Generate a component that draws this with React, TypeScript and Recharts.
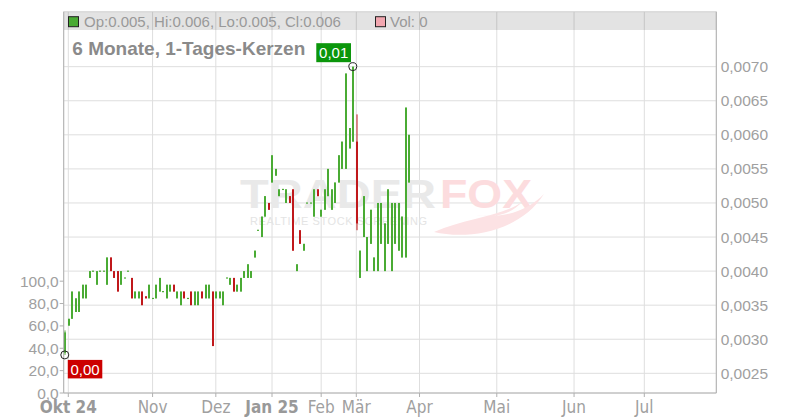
import React from 'react';
import { ComposedChart, Bar, XAxis, YAxis, CartesianGrid, ReferenceDot, Customized } from 'recharts';

// One candle per trading slot (slot index = array index)
const openP = [
  0.0028, 0.0032, 0.0033, 0.0034, 0.0034, 0.0036, 0.0036, 0.0039, 0.004, 0.0038,
  0.004, 0.004, 0.0038, 0.0042, 0.004, 0.004, 0.0038, 0.0039, 0.004, 0.0039,
  0.0036, 0.0036, 0.0037, 0.00363, 0.0036, 0.0036, 0.0036, 0.0037, 0.0037, 0.0036,
  0.0037, 0.0038, 0.0036, 0.0035, 0.0037, 0.0036, 0.0037, 0.0035, 0.0035, 0.0037,
  0.0036, 0.0036, 0.0037, 0.0036, 0.0036, 0.0035, 0.0039, 0.0038, 0.0039, 0.0037,
  0.0037, 0.0039, 0.0039, 0.0039, 0.0042, 0.0046, 0.0045, 0.0048, 0.005, 0.0053,
  0.0054, 0.0051, 0.0052, 0.005, 0.0051, 0.0052, 0.004, 0.0046, 0.0043, 0.005,
  0.005, 0.0048, 0.0052, 0.0048, 0.0049, 0.0051, 0.0049, 0.005, 0.0053, 0.0055,
  0.0055, 0.0058, 0.0059, 0.0059, 0.0039, 0.0045, 0.004, 0.0044, 0.004, 0.004,
  0.0044, 0.004, 0.0044, 0.004, 0.0044, 0.0043, 0.0042, 0.0042, 0.0053,
];
const highP = [
  0.00313, 0.0033, 0.0037, 0.0036, 0.0037, 0.0038, 0.0038, 0.004, 0.004, 0.004,
  0.004, 0.004, 0.0042, 0.0042, 0.004, 0.004, 0.004, 0.0039, 0.004, 0.0039,
  0.0037, 0.0037, 0.0037, 0.00363, 0.0038, 0.0036, 0.0038, 0.0039, 0.0037, 0.0038,
  0.0038, 0.0038, 0.0037, 0.0037, 0.0037, 0.0036, 0.0037, 0.0037, 0.0037, 0.0037,
  0.0038, 0.0038, 0.0037, 0.0037, 0.0037, 0.0037, 0.0039, 0.0039, 0.0039, 0.0038,
  0.0039, 0.004, 0.0041, 0.004, 0.0043, 0.0046, 0.0048, 0.0051, 0.005, 0.0057,
  0.0055, 0.0052, 0.0052, 0.0052, 0.0051, 0.0052, 0.0041, 0.0046, 0.0044, 0.005,
  0.005, 0.0052, 0.0052, 0.0049, 0.0052, 0.0055, 0.0052, 0.0053, 0.0057, 0.0059,
  0.0069, 0.0061, 0.007, 0.0063, 0.0043, 0.0051, 0.0045, 0.0049, 0.0042, 0.005,
  0.005, 0.0047, 0.0052, 0.005, 0.005, 0.005, 0.0048, 0.0064, 0.006,
];
const lowP = [
  0.00277, 0.0032, 0.0033, 0.0034, 0.0034, 0.0036, 0.0036, 0.0039, 0.004, 0.0038,
  0.004, 0.004, 0.0038, 0.004, 0.0039, 0.0037, 0.0038, 0.0039, 0.004, 0.0036,
  0.0036, 0.0036, 0.0035, 0.0036, 0.0036, 0.0036, 0.0036, 0.0037, 0.0037, 0.0036,
  0.0037, 0.0037, 0.0036, 0.0035, 0.0036, 0.0036, 0.0035, 0.0035, 0.0035, 0.0036,
  0.0036, 0.0036, 0.0029, 0.0036, 0.0036, 0.0035, 0.0039, 0.0038, 0.0037, 0.0037,
  0.0037, 0.0039, 0.0039, 0.0039, 0.0042, 0.0046, 0.0045, 0.0048, 0.0049, 0.0053,
  0.0054, 0.0051, 0.0052, 0.005, 0.005, 0.0043, 0.004, 0.0044, 0.0043, 0.005,
  0.005, 0.0048, 0.0051, 0.0048, 0.0049, 0.0051, 0.0049, 0.005, 0.0053, 0.0055,
  0.0055, 0.0058, 0.0059, 0.0046, 0.0039, 0.0045, 0.004, 0.0044, 0.004, 0.004,
  0.0044, 0.004, 0.0044, 0.004, 0.0044, 0.0043, 0.0042, 0.0042, 0.0053,
];
const closeP = [
  0.0031, 0.0033, 0.0037, 0.0036, 0.0037, 0.0038, 0.0038, 0.004, 0.004, 0.004,
  0.004, 0.004, 0.0042, 0.004, 0.0039, 0.0037, 0.004, 0.0039, 0.004, 0.0036,
  0.0037, 0.0037, 0.0035, 0.0036, 0.0038, 0.0036, 0.0038, 0.0039, 0.0037, 0.0038,
  0.0038, 0.0037, 0.0037, 0.0037, 0.0036, 0.0036, 0.0035, 0.0037, 0.0037, 0.0036,
  0.0038, 0.0038, 0.0029, 0.0037, 0.0037, 0.0037, 0.0039, 0.0039, 0.0037, 0.0038,
  0.0039, 0.004, 0.0041, 0.004, 0.0043, 0.0046, 0.0048, 0.0051, 0.0049, 0.0057,
  0.0055, 0.0052, 0.0052, 0.0052, 0.005, 0.0043, 0.0041, 0.0044, 0.0044, 0.005,
  0.005, 0.0052, 0.0051, 0.0049, 0.0052, 0.0055, 0.0052, 0.0053, 0.0057, 0.0059,
  0.0069, 0.0061, 0.007, 0.0047, 0.0043, 0.0051, 0.0045, 0.0049, 0.0042, 0.005,
  0.005, 0.0047, 0.0052, 0.005, 0.005, 0.005, 0.0048, 0.0064, 0.006,
];
const lastVolume = 0;

const monthTickSlots = [1, 25, 43, 59, 73, 83, 101, 123, 145, 165];
const monthTickLabels = ['Okt 24', 'Nov', 'Dez', 'Jan 25', 'Feb', 'Mär', 'Apr', 'Mai', 'Jun', 'Jul'];
const boldTickLabels = ['Okt 24', 'Jan 25'];
const priceTicks = [0.0025, 0.003, 0.0035, 0.004, 0.0045, 0.005, 0.0055, 0.006, 0.0065, 0.007];
const volumeTicks = [0, 20, 40, 60, 80, 100];
const titleText = '6 Monate, 1-Tages-Kerzen';

const GREEN = '#4aab34';
const RED = '#c0181b';
const AXIS_TEXT = '#a0a0a0';
const FONT = '"Liberation Sans", Arial, sans-serif';

const data = openP.map((o, i) => ({
  s: i,
  o,
  h: highP[i],
  l: lowP[i],
  c: closeP[i],
  range: [lowP[i], highP[i]],
}));

const last = data[data.length - 1];
const maxIdx = highP.indexOf(Math.max(...highP));
const minIdx = lowP.indexOf(Math.min(...lowP));

const de2 = (v: number) => v.toFixed(2).replace('.', ',');

function Candle(props: any) {
  const { x, y, width, height, payload } = props;
  if (x == null || y == null || !payload) return null;
  const { o, h, l, c } = payload;
  const color = c >= o ? GREEN : RED;
  const cx = Math.round(x + width / 2);
  const top = Math.min(y, y + (height || 0));
  const hh = Math.abs(height || 0);
  if (h - l <= 0 || hh < 1) {
    return <rect x={cx - 1} y={top - 0.5} width={2} height={1.2} fill={color} />;
  }
  const k = hh / (h - l);
  const bTop = top + (h - Math.max(o, c)) * k;
  const bH = Math.max(Math.abs(o - c) * k, 1);
  return (
    <g>
      <rect x={cx - 0.5} y={top} width={1} height={hh} fill={color} />
      <rect x={cx - 1} y={bTop} width={2} height={bH} fill={color} />
    </g>
  );
}

function HighMarker(props: any) {
  const { cx, cy } = props;
  return (
    <g>
      <rect x={cx - 36.5} y={cy - 23.5} width={34.7} height={19} fill="#0b960b" />
      <text x={cx - 19.1} y={cy - 8.6} textAnchor="middle" fill="#fff" fontSize={15} fontFamily={FONT}>
        {de2(highP[maxIdx])}
      </text>
      <circle cx={cx} cy={cy} r={4} fill="none" stroke="#222" strokeWidth={1} />
    </g>
  );
}

function LowMarker(props: any) {
  const { cx, cy } = props;
  return (
    <g>
      <rect x={cx + 3} y={cy + 5} width={34.5} height={18.5} fill="#cc0000" />
      <text x={cx + 20.2} y={cy + 19.6} textAnchor="middle" fill="#fff" fontSize={15} fontFamily={FONT}>
        {de2(lowP[minIdx])}
      </text>
      <circle cx={cx} cy={cy} r={4} fill="none" stroke="#222" strokeWidth={1} />
    </g>
  );
}

function XTick(props: any) {
  const { x, y, payload } = props;
  const i = monthTickSlots.indexOf(payload.value);
  const label = i >= 0 ? monthTickLabels[i] : '';
  const bold = boldTickLabels.includes(label);
  return (
    <text
      x={x}
      y={y + 15.5}
      textAnchor="middle"
      fill={bold ? '#999' : AXIS_TEXT}
      fontWeight={bold ? 'bold' : 'normal'}
      fontSize={17}
      fontFamily={'"Liberation Sans Narrow", "Arial Narrow", "DejaVu Sans Condensed", sans-serif'}
    >
      {label}
    </text>
  );
}

function Watermark() {
  return (
    <g style={{ pointerEvents: 'none' }}>
      <text x={232} y={199.7} fontSize={40} fontWeight="bold" fontFamily={FONT} fill="#e9e9e9"
        textLength={196} lengthAdjust="spacingAndGlyphs">TRADER</text>
      <text x={432} y={199.7} fontSize={40} fontWeight="bold" fontFamily={FONT} fill="#fcdcde"
        textLength={92} lengthAdjust="spacingAndGlyphs">FOX</text>
      <path d="M 426 224 C 460 232, 512 224, 536 186 C 518 204, 494 211, 468 207 C 492 211, 506 203, 514 194 C 494 208, 458 210, 426 224 Z"
        fill="#fce2e4" />
      <text x={242} y={216.5} fontSize={11} fontFamily={FONT} fill="#e4e4e4"
        textLength={177} lengthAdjust="spacing">REALTIME STOCK SCREENING</text>
    </g>
  );
}

function Header() {
  const f3 = (v: number) => v.toFixed(3);
  return (
    <g>
      <rect x={55.7} y={3.7} width={652.6} height={18.3} fill="#000" fillOpacity={0.11} />
      <rect x={60.5} y={8.7} width={10} height={10} fill="#4aab34" stroke="#222" strokeWidth={1} />
      <text x={76} y={18.6} fontSize={15} fontFamily={FONT} fill="#999">
        {`Op:${f3(last.o)}, Hi:${f3(last.h)}, Lo:${f3(last.l)}, Cl:${f3(last.c)}`}
      </text>
      <rect x={367.5} y={8.7} width={10} height={10} fill="#f2a7b0" stroke="#222" strokeWidth={1} />
      <text x={382} y={18.6} fontSize={15} fontFamily={FONT} fill="#999">{`Vol: ${lastVolume}`}</text>
      <text x={64.3} y={46.8} fontSize={19} fontWeight="bold" fontFamily={FONT} fill="#8a8a8a">{titleText}</text>
    </g>
  );
}

export default function App() {
  return (
    <div style={{ width: 792, height: 412 }}>
      <ComposedChart
        width={792}
        height={412}
        data={data}
        margin={{ top: 3.7, right: 13.7, bottom: 0, left: 5.7 }}
      >
        <Customized component={Watermark} />
        <CartesianGrid yAxisId="price" stroke="#dedede" strokeWidth={1} />
        <XAxis
          type="number"
          dataKey="s"
          domain={[-0.31, 185.5]}
          allowDataOverflow
          ticks={monthTickSlots}
          interval={0}
          height={27}
          tick={<XTick />}
          tickSize={4}
          tickMargin={0}
          tickLine={{ stroke: '#b0b0b0' }}
          axisLine={{ stroke: '#b0b0b0' }}
        />
        <YAxis
          yAxisId="vol"
          orientation="left"
          domain={[0, 341]}
          allowDataOverflow
          ticks={volumeTicks}
          interval={0}
          width={50}
          tickSize={4}
          tickMargin={1}
          tickFormatter={(v: number) => v.toFixed(1).replace('.', ',')}
          tick={{ fill: AXIS_TEXT, fontSize: 15.5, fontFamily: FONT }}
          tickLine={{ stroke: '#b0b0b0' }}
          axisLine={{ stroke: '#b0b0b0' }}
        />
        <YAxis
          yAxisId="price"
          orientation="right"
          domain={[0.002211, 0.007807]}
          allowDataOverflow
          ticks={priceTicks}
          interval={0}
          width={70}
          tickSize={0}
          tickMargin={4.4}
          tickFormatter={(v: number) => v.toFixed(4).replace('.', ',')}
          tick={{ fill: AXIS_TEXT, fontSize: 15.5, fontFamily: FONT }}
          axisLine={{ stroke: '#b0b0b0' }}
        />
        <Customized component={Header} />
        <Bar yAxisId="price" dataKey="range" barSize={2} isAnimationActive={false} shape={Candle} />
        <ReferenceDot yAxisId="price" x={maxIdx} y={highP[maxIdx]} r={4} shape={HighMarker} ifOverflow="visible" />
        <ReferenceDot yAxisId="price" x={minIdx} y={lowP[minIdx]} r={4} shape={LowMarker} ifOverflow="visible" />
      </ComposedChart>
    </div>
  );
}
